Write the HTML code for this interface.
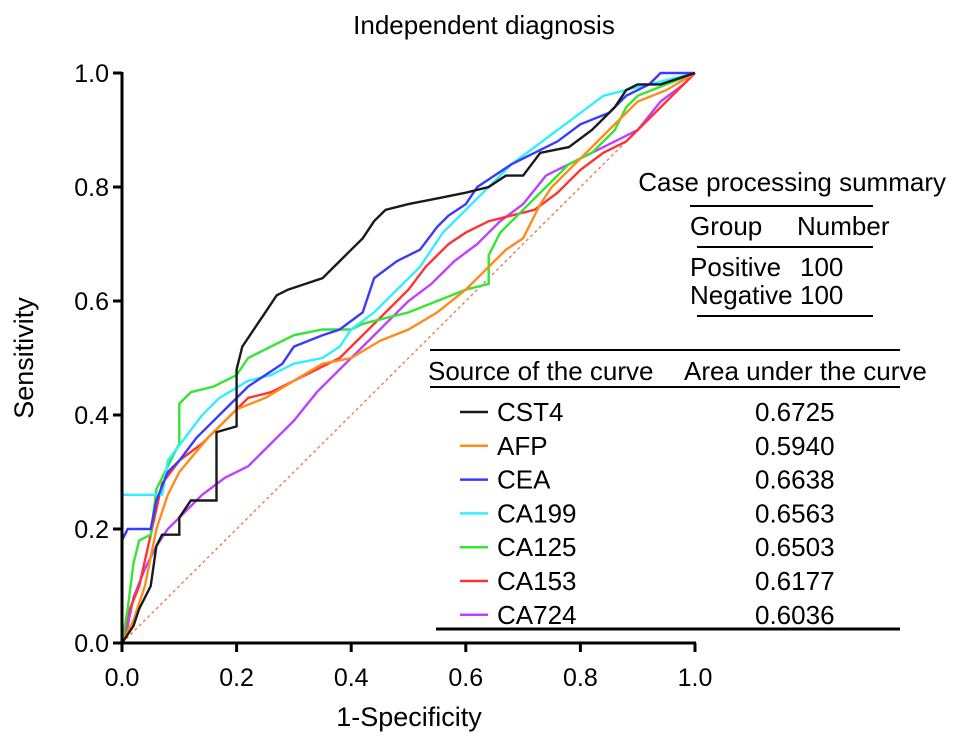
<!DOCTYPE html>
<html><head><meta charset="utf-8"><style>
body{margin:0;background:#fff}
svg{font-family:"Liberation Sans",Arial,sans-serif}
</style></head><body>
<svg width="969" height="745" viewBox="0 0 969 745">
<text x="484" y="34" font-size="26" text-anchor="middle">Independent diagnosis</text>
<g id="plot"></g>
<text x="409" y="726" font-size="27" text-anchor="middle">1-Specificity</text>
<text transform="translate(33,358) rotate(-90)" font-size="27" text-anchor="middle">Sensitivity</text>
<g font-size="26">
<text x="946" y="191" text-anchor="end">Case processing summary</text>
<line x1="690" y1="206" x2="873" y2="206" stroke="#000" stroke-width="2"/>
<text x="690" y="235">Group</text><text x="797" y="235">Number</text>
<line x1="697" y1="247" x2="873" y2="247" stroke="#000" stroke-width="2"/>
<text x="690" y="276">Positive</text><text x="800" y="276">100</text>
<text x="690" y="304">Negative</text><text x="800" y="304">100</text>
<line x1="697" y1="316" x2="873" y2="316" stroke="#000" stroke-width="2"/>
</g>
<g font-size="26">
<line x1="430" y1="350" x2="900" y2="350" stroke="#000" stroke-width="2"/>
<text x="428" y="380">Source of the curve</text><text x="684" y="380">Area under the curve</text>
<line x1="430" y1="387" x2="900" y2="387" stroke="#000" stroke-width="2"/>
<g id="legend"></g>
<line x1="436" y1="629" x2="900" y2="629" stroke="#000" stroke-width="3"/>
</g>
</svg>
<script>
const names=["CST4","AFP","CEA","CA199","CA125","CA153","CA724"];
const aucs=["0.6725","0.5940","0.6638","0.6563","0.6503","0.6177","0.6036"];
const colors=["#1a1a1a","#ff8c1a","#3a3aff","#33eeff","#33e633","#ff3333","#c040ff"];
const ticks=[0,0.2,0.4,0.6,0.8,1.0];
const cst4=[[0,0],[0.02,0.03],[0.03,0.06],[0.05,0.1],[0.06,0.17],[0.07,0.19],[0.1,0.19],[0.1,0.22],[0.12,0.25],[0.165,0.25],[0.165,0.37],[0.2,0.38],[0.2,0.48],[0.21,0.52],[0.23,0.55],[0.25,0.58],[0.27,0.61],[0.29,0.62],[0.32,0.63],[0.35,0.64],[0.38,0.67],[0.4,0.69],[0.42,0.71],[0.44,0.74],[0.46,0.76],[0.5,0.77],[0.55,0.78],[0.6,0.79],[0.64,0.8],[0.67,0.82],[0.7,0.82],[0.73,0.86],[0.78,0.87],[0.82,0.9],[0.86,0.94],[0.88,0.97],[0.9,0.98],[0.94,0.98],[1,1]];
const afp=[[0,0],[0.02,0.04],[0.04,0.1],[0.06,0.2],[0.08,0.26],[0.1,0.3],[0.15,0.36],[0.2,0.41],[0.25,0.43],[0.3,0.46],[0.35,0.49],[0.4,0.5],[0.45,0.53],[0.5,0.55],[0.55,0.58],[0.6,0.62],[0.63,0.65],[0.67,0.69],[0.7,0.71],[0.73,0.77],[0.75,0.8],[0.77,0.82],[0.8,0.85],[0.85,0.9],[0.9,0.95],[0.95,0.97],[1,1]];
const cea=[[0,0],[0,0.18],[0.01,0.2],[0.05,0.2],[0.06,0.25],[0.08,0.3],[0.1,0.32],[0.13,0.36],[0.16,0.39],[0.19,0.42],[0.22,0.45],[0.25,0.47],[0.28,0.49],[0.3,0.52],[0.35,0.54],[0.38,0.55],[0.42,0.58],[0.44,0.64],[0.48,0.67],[0.52,0.69],[0.55,0.73],[0.57,0.75],[0.6,0.77],[0.62,0.8],[0.65,0.82],[0.68,0.84],[0.72,0.86],[0.76,0.88],[0.8,0.91],[0.85,0.93],[0.88,0.96],[0.92,0.98],[0.94,1],[1,1]];
const ca199=[[0,0],[0,0.26],[0.07,0.26],[0.08,0.32],[0.11,0.36],[0.14,0.4],[0.17,0.43],[0.22,0.46],[0.26,0.47],[0.3,0.49],[0.35,0.5],[0.38,0.52],[0.4,0.55],[0.44,0.58],[0.48,0.62],[0.52,0.66],[0.56,0.72],[0.6,0.76],[0.64,0.8],[0.68,0.84],[0.72,0.87],[0.76,0.9],[0.8,0.93],[0.84,0.96],[0.88,0.97],[0.92,0.98],[0.96,0.99],[1,1]];
const ca125=[[0,0],[0.01,0.06],[0.02,0.14],[0.03,0.18],[0.05,0.19],[0.06,0.27],[0.08,0.31],[0.1,0.35],[0.1,0.42],[0.12,0.44],[0.16,0.45],[0.2,0.47],[0.22,0.5],[0.26,0.52],[0.3,0.54],[0.35,0.55],[0.4,0.55],[0.42,0.56],[0.46,0.57],[0.5,0.58],[0.55,0.6],[0.6,0.62],[0.64,0.63],[0.64,0.68],[0.66,0.72],[0.7,0.76],[0.74,0.8],[0.78,0.84],[0.82,0.86],[0.86,0.9],[0.88,0.94],[0.9,0.96],[0.95,0.98],[1,1]];
const ca153=[[0,0],[0.01,0.05],[0.03,0.1],[0.05,0.19],[0.07,0.28],[0.1,0.32],[0.14,0.35],[0.18,0.39],[0.22,0.43],[0.26,0.44],[0.3,0.46],[0.34,0.48],[0.38,0.5],[0.42,0.54],[0.46,0.58],[0.5,0.62],[0.53,0.66],[0.57,0.7],[0.6,0.72],[0.64,0.74],[0.68,0.75],[0.72,0.76],[0.76,0.79],[0.8,0.83],[0.84,0.86],[0.88,0.88],[0.92,0.92],[0.96,0.96],[1,1]];
const ca724=[[0,0],[0.01,0.03],[0.02,0.08],[0.04,0.13],[0.06,0.17],[0.08,0.2],[0.1,0.22],[0.14,0.26],[0.18,0.29],[0.22,0.31],[0.26,0.35],[0.3,0.39],[0.34,0.44],[0.38,0.48],[0.42,0.52],[0.46,0.56],[0.5,0.6],[0.54,0.63],[0.58,0.67],[0.62,0.7],[0.66,0.74],[0.7,0.77],[0.74,0.82],[0.78,0.84],[0.82,0.86],[0.86,0.88],[0.9,0.9],[0.94,0.95],[0.98,0.98],[1,1]];
const series=[cst4,afp,cea,ca199,ca125,ca153,ca724];
const NS="http://www.w3.org/2000/svg";
const X0=122,X1=695,Y0=643,Y1=73;
const sx=v=>X0+v*(X1-X0), sy=v=>Y0-v*(Y0-Y1);
const plot=document.getElementById('plot');
function mk(t,a,p){const e=document.createElementNS(NS,t);for(const k in a)e.setAttribute(k,a[k]);(p||plot).appendChild(e);return e;}
let d=mk('line',{x1:sx(0),y1:sy(0),x2:sx(1),y2:sy(1),stroke:'#f08060','stroke-width':1.5,'stroke-dasharray':'3,3'});


for(let i=series.length-1;i>=0;i--){
  const pts=series[i].map(p=>sx(p[0]).toFixed(1)+','+sy(p[1]).toFixed(1)).join(' ');
  const pl=mk('polyline',{points:pts,fill:'none',stroke:colors[i],'stroke-width':2.4,'stroke-linejoin':'miter'});
  
  
}
let ax=mk('line',{x1:X0,y1:Y0,x2:X1+1,y2:Y0,stroke:'#000','stroke-width':3});


let ay=mk('line',{x1:X0,y1:Y0+1,x2:X0,y2:Y1-1,stroke:'#000','stroke-width':3});


ticks.forEach(t=>{
  mk('line',{x1:sx(t),y1:Y0,x2:sx(t),y2:Y0+9,stroke:'#000','stroke-width':3});
  mk('line',{x1:X0-9,y1:sy(t),x2:X0,y2:sy(t),stroke:'#000','stroke-width':3});
  const tx=mk('text',{x:sx(t),y:Y0+43,'font-size':25,'text-anchor':'middle'});tx.textContent=t.toFixed(1);
  
  
  const ty=mk('text',{x:X0-13,y:sy(t)+9,'font-size':25,'text-anchor':'end'});ty.textContent=t.toFixed(1);
  
  
});
const lg=document.getElementById('legend');
names.forEach((n,i)=>{
  const y=412+i*33.8;
  const g=mk('g',{},lg);
  
  
  mk('line',{x1:460,y1:y,x2:488,y2:y,stroke:colors[i],'stroke-width':2.5},g);
  const a=mk('text',{x:497,y:y+9,'font-size':26},g);a.textContent=n;
  const b=mk('text',{x:755,y:y+9,'font-size':26},g);b.textContent=aucs[i];
});
</script>
</body></html>
